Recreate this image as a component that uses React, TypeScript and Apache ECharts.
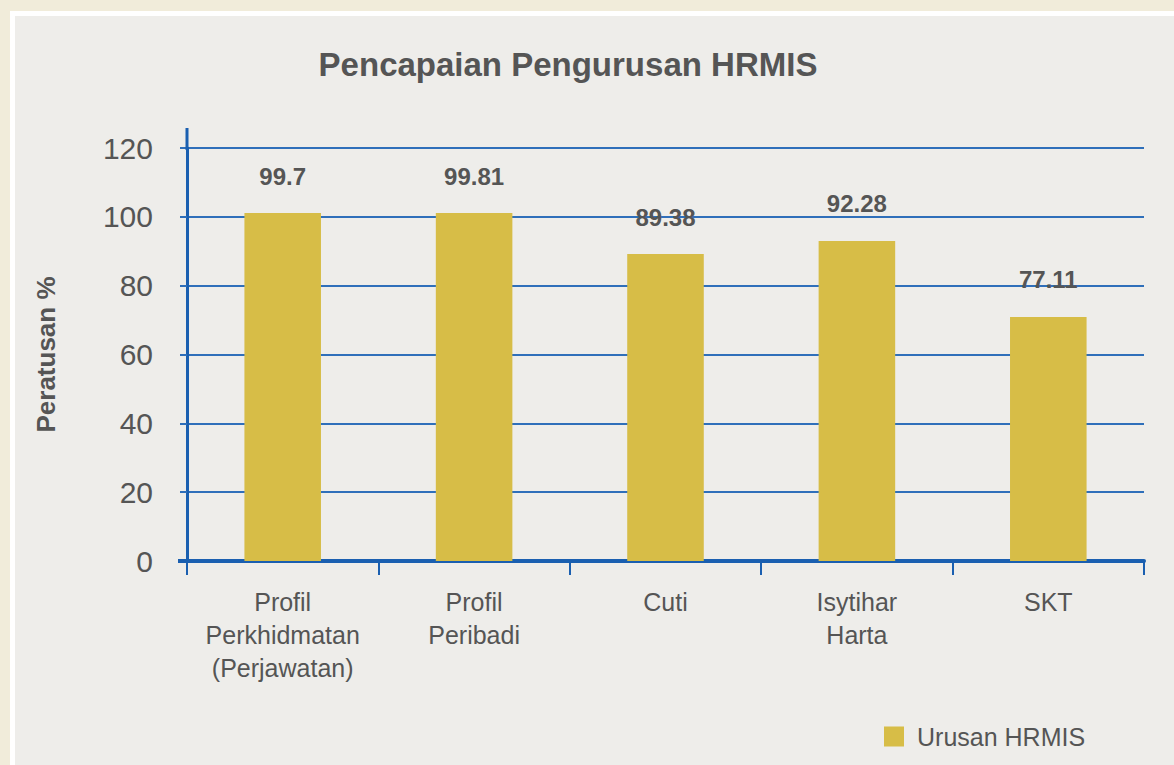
import React, { useEffect, useRef } from "react";
import * as echarts from "echarts";

const categories = ["Profil\nPerkhidmatan\n(Perjawatan)", "Profil\nPeribadi", "Cuti", "Isytihar\nHarta", "SKT"];
// bar heights as drawn in the picture
const barValues = [101.1, 101.1, 89.2, 93.0, 70.9];
// value labels printed above the bars
const labelTexts = ["99.7", "99.81", "89.38", "92.28", "77.11"];
const seriesName = "Urusan HRMIS";
const yTicks = { min: 0, max: 120, interval: 20 };

const FONT = "'Liberation Sans', Arial, sans-serif";
const TEXT = "#555555";
const BLUE = "#1a5fb0";
const GRID = "#2f6fba";
const GOLD = "#d7bd47";

export default function App() {
  const ref = useRef<HTMLDivElement>(null);
  useEffect(() => {
    if (!ref.current) return;
    const chart = echarts.init(ref.current, undefined, { renderer: "svg" });
    chart.setOption({
      animation: false,
      backgroundColor: "transparent",
      textStyle: { fontFamily: FONT },
      title: {
        text: "Pencapaian Pengurusan HRMIS",
        left: 568,
        textAlign: "center",
        top: 48,
        padding: 0,
        textStyle: { fontFamily: FONT, fontSize: 33, fontWeight: "bold", color: TEXT },
      },
      grid: { left: 187, right: 30, top: 148, bottom: 204, containLabel: false },
      legend: {
        data: [seriesName],
        left: 884,
        top: 724,
        padding: 0,
        icon: "rect",
        itemWidth: 20,
        itemHeight: 20,
        textStyle: { fontFamily: FONT, fontSize: 25, color: TEXT, padding: [0, 0, 0, 8] },
      },
      xAxis: {
        type: "category",
        data: categories,
        axisLine: { show: true, lineStyle: { color: BLUE, width: 4 } },
        axisTick: { show: true, alignWithLabel: false, length: 14, lineStyle: { color: BLUE, width: 2 } },
        axisLabel: {
          interval: 0,
          margin: 24,
          fontFamily: FONT,
          fontSize: 25,
          lineHeight: 33,
          color: TEXT,
          align: "center",
        },
        splitLine: { show: false },
      },
      yAxis: {
        type: "value",
        min: yTicks.min,
        max: yTicks.max,
        interval: yTicks.interval,
        name: "Peratusan %",
        nameLocation: "middle",
        nameGap: 128,
        nameRotate: 90,
        nameTextStyle: { fontFamily: FONT, fontSize: 26, fontWeight: "bold", color: TEXT },
        axisLine: { show: true, lineStyle: { color: BLUE, width: 3 } },
        axisTick: { show: true, length: 7, lineStyle: { color: GRID, width: 2 } },
        axisLabel: { margin: 34, fontFamily: FONT, fontSize: 30, color: TEXT },
        splitLine: { show: true, lineStyle: { color: GRID, width: 2 } },
      },
      graphic: [
        {
          type: "line",
          shape: { x1: 187, y1: 128, x2: 187, y2: 150 },
          style: { stroke: BLUE, lineWidth: 3 },
          z: 10,
        },
        {
          type: "line",
          shape: { x1: 178, y1: 561, x2: 187, y2: 561 },
          style: { stroke: BLUE, lineWidth: 4 },
          z: 10,
        },
      ],
      series: [
        {
          name: seriesName,
          type: "bar",
          data: barValues,
          barWidth: "40%",
          itemStyle: { color: GOLD },
          label: {
            show: true,
            position: "top",
            distance: 25,
            fontFamily: FONT,
            fontSize: 24,
            fontWeight: "bold",
            color: TEXT,
            formatter: (p: any) => labelTexts[p.dataIndex],
          },
        },
      ],
    });
    return () => chart.dispose();
  }, []);

  return (
    <div style={{ position: "fixed", left: 0, top: 0, width: 1174, height: 765, background: "#f1ecda", overflow: "hidden" }}>
      <div
        style={{
          position: "absolute",
          left: 10,
          top: 11,
          width: 1174,
          height: 765,
          background: "#eeedea",
          borderLeft: "5px solid #ffffff",
          borderTop: "5px solid #ffffff",
        }}
      />
      <div ref={ref} style={{ position: "absolute", left: 0, top: 0, width: 1174, height: 765 }} />
    </div>
  );
}
